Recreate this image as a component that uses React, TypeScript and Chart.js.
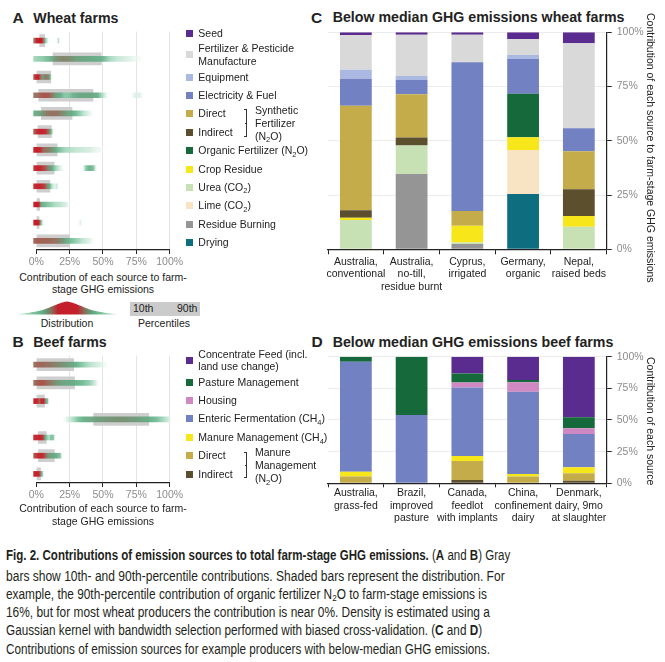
import React, { useEffect, useLayoutEffect, useRef } from "react";
import { Chart, registerables } from "chart.js";

Chart.register(...registerables);

const SANS = "'Liberation Sans', Arial, Helvetica, sans-serif";
const NARROW = "'Liberation Sans Narrow', 'Arial Narrow', 'Liberation Sans', Arial, sans-serif";
Chart.defaults.font.family = SANS;

// ---------------- Panel A : wheat farms ----------------
const wheatSources = [
  "Seed",
  "Fertilizer & Pesticide Manufacture",
  "Equipment",
  "Electricity & Fuel",
  "Direct",
  "Indirect",
  "Organic Fertilizer (N2O)",
  "Crop Residue",
  "Urea (CO2)",
  "Lime (CO2)",
  "Residue Burning",
  "Drying",
];
const wheatColors = [
  "#5b2c8f", "#d9d9d9", "#aab8e2", "#7281c1", "#c4ac4b", "#5b4f2e",
  "#15693a", "#f6e61a", "#c7e1b5", "#f8e4c2", "#959595", "#0e6e80",
];
const wheatP10 = [2.5, 12.5, 0, 1.8, 3.8, 1.3, 0, 0, 0, 0, 0, 0];
const wheatP90 = [6.3, 48.7, 10.8, 42.5, 26.8, 11.3, 15.7, 13.4, 10.2, 2.5, 2, 25];
// [percent, relative density]
const wheatDensity = [
  [[-2, 0.45], [0, 0.85], [2, 1], [4, 0.9], [5.5, 0.5], [7, 0.2], [9, 0.03], [10, 0], [15, 0], [16.5, 0.15], [18, 0]],
  [[-2, 0.15], [5, 0.2], [10, 0.28], [15, 0.4], [20, 0.45], [25, 0.42], [30, 0.35], [35, 0.33], [40, 0.32], [45, 0.3], [50, 0.28], [55, 0.15], [60, 0.1], [70, 0.05], [80, 0.02], [82, 0]],
  [[-2, 0.6], [0, 0.9], [2, 0.85], [3.5, 0.45], [5, 0.38], [7, 0.5], [9, 0.45], [10.5, 0.25], [12, 0]],
  [[-2, 0.5], [2, 0.55], [6, 0.62], [9, 0.6], [12, 0.48], [15, 0.35], [18, 0.3], [21, 0.2], [24, 0.2], [28, 0.28], [33, 0.32], [38, 0.33], [43, 0.32], [46, 0.3], [49, 0.15], [52, 0.05], [55, 0], [70, 0], [74, 0.06], [78, 0.05], [81, 0]],
  [[-2, 0.3], [0, 0.32], [4, 0.38], [8, 0.48], [12, 0.52], [16, 0.5], [20, 0.42], [24, 0.33], [28, 0.3], [32, 0.2], [36, 0.1], [40, 0.04], [44, 0]],
  [[-2, 0.55], [0, 0.75], [2, 0.85], [5, 0.85], [7, 0.75], [9, 0.55], [10.5, 0.35], [12, 0.15], [13, 0]],
  [[-2, 0.85], [0, 0.95], [3, 0.8], [5, 0.55], [8, 0.5], [11, 0.42], [14, 0.33], [17, 0.25], [22, 0.15], [30, 0.1], [40, 0.07], [48, 0.03], [52, 0]],
  [[-2, 0.7], [0, 0.85], [3, 0.85], [6, 0.65], [9, 0.45], [12, 0.3], [15, 0.15], [18, 0.06], [22, 0], [34, 0], [37, 0.2], [40, 0.3], [43, 0.22], [46, 0]],
  [[-2, 0.75], [0, 0.85], [3, 0.85], [6, 0.7], [8, 0.45], [10, 0.3], [12, 0.1], [14, 0.04], [15.5, 0.1], [17, 0]],
  [[-2, 0.85], [0, 1], [2, 0.8], [3.5, 0.35], [6, 0.28], [9, 0.22], [14, 0.14], [19, 0.1], [23, 0.05], [26, 0]],
  [[-2, 0.85], [0, 1], [2, 0.8], [3, 0.4], [4.5, 0.1], [6, 0], [31, 0], [33, 0.06], [35, 0]],
  [[-2, 0.55], [0, 0.58], [5, 0.56], [10, 0.55], [15, 0.5], [19, 0.42], [22, 0.32], [26, 0.25], [30, 0.18], [35, 0.1], [40, 0.05], [45, 0]],
];

// ---------------- Panel B : beef farms ----------------
const beefSources = [
  "Concentrate Feed (incl. land use change)",
  "Pasture Management",
  "Housing",
  "Enteric Fermentation (CH4)",
  "Manure Management (CH4)",
  "Direct",
  "Indirect",
];
const beefColors = ["#5b2c8f", "#15693a", "#d088c2", "#7281c1", "#f6e61a", "#c4ac4b", "#5b4f2e"];
const beefP10 = [0, 0, 0, 43, 1.5, 1.5, 0];
const beefP90 = [28, 28.7, 6.2, 84.3, 7.5, 13.5, 3.2];
const beefDensity = [
  [[-2, 0.52], [0, 0.55], [5, 0.55], [10, 0.5], [15, 0.45], [20, 0.4], [25, 0.34], [30, 0.3], [35, 0.2], [40, 0.12], [45, 0.08], [50, 0.04], [55, 0]],
  [[-2, 0.5], [0, 0.58], [4, 0.62], [8, 0.55], [12, 0.45], [16, 0.38], [20, 0.33], [25, 0.32], [30, 0.3], [35, 0.26], [40, 0.18], [44, 0.08], [48, 0]],
  [[-2, 0.85], [0, 0.9], [1.5, 0.7], [2.5, 0.55], [3.5, 0.8], [5.5, 0.85], [7, 0.4], [8.5, 0.25], [10, 0]],
  [[19, 0], [23, 0.05], [27, 0.12], [31, 0.22], [35, 0.3], [40, 0.33], [45, 0.35], [50, 0.37], [55, 0.38], [60, 0.4], [65, 0.4], [70, 0.38], [75, 0.36], [80, 0.33], [85, 0.3], [90, 0.25], [95, 0.15], [99, 0.08], [102, 0]],
  [[-2, 0.8], [0, 0.85], [3, 0.85], [5, 0.7], [6.5, 0.33], [8, 0.2], [9.5, 0.12], [11, 0.25], [13, 0.2], [14.5, 0]],
  [[-2, 0.55], [0, 0.75], [3, 0.85], [5, 0.78], [7, 0.55], [9, 0.38], [12, 0.33], [15, 0.32], [18, 0.22], [20, 0]],
  [[-2, 0.85], [0, 0.9], [2, 0.85], [3, 0.5], [4.5, 0.25], [6, 0]],
];

const pctTicks = [0, 25, 50, 75, 100];

// ---------------- Panel C : example wheat farms ----------------
const wheatFarms = [
  ["Australia,", "conventional"],
  ["Australia,", "no-till,", "residue burnt"],
  ["Cyprus,", "irrigated"],
  ["Germany,", "organic"],
  ["Nepal,", "raised beds"],
];
const cDrying = [0, 0, 0, 25.5, 0];
const cResidueBurning = [0, 34.7, 2.5, 0, 0];
const cUrea = [13.5, 13.1, 0.6, 0, 10.4];
const cLime = [0, 0, 0, 20.3, 0];
const cCropResidue = [1.0, 0, 7.7, 5.8, 4.9];
const cOrganic = [0, 0, 0, 20.1, 0];
const cIndirect = [3.5, 3.7, 0, 0, 12.4];
const cDirect = [48.2, 20.0, 6.9, 0, 17.5];
const cElectricity = [12.4, 6.6, 68.5, 16.0, 10.6];
const cEquipment = [4.1, 1.8, 0, 1.8, 0];
const cFertilizer = [16.1, 19.0, 12.7, 7.4, 39.1];
const cSeed = [1.2, 1.1, 1.1, 3.1, 5.1];

// ---------------- Panel D : example beef farms ----------------
const beefFarms = [
  ["Australia,", "grass-fed"],
  ["Brazil,", "improved", "pasture"],
  ["Canada,", "feedlot", "with implants"],
  ["China,", "confinement", "dairy"],
  ["Denmark,", "dairy, 9mo", "at slaughter"],
];
const dIndirect = [0, 0, 2.6, 0, 2.1];
const dDirect = [5.3, 0, 15.0, 5.3, 5.8];
const dManureCH4 = [3.9, 0, 3.9, 2.1, 4.7];
const dEnteric = [86.8, 53.9, 54.2, 65.0, 26.3];
const dHousing = [0, 0, 3.9, 7.4, 4.5];
const dPasture = [4.0, 46.1, 7.1, 1.8, 8.7];
const dConcentrate = [0, 0, 13.3, 18.4, 47.9];

const wc = (name: string) => wheatColors[wheatSources.indexOf(name)];
const bc = (name: string) => beefColors[beefSources.indexOf(name)];

const wheatStack = [
  { label: "Drying", data: cDrying, color: wc("Drying") },
  { label: "Residue Burning", data: cResidueBurning, color: wc("Residue Burning") },
  { label: "Urea (CO2)", data: cUrea, color: wc("Urea (CO2)") },
  { label: "Lime (CO2)", data: cLime, color: wc("Lime (CO2)") },
  { label: "Crop Residue", data: cCropResidue, color: wc("Crop Residue") },
  { label: "Organic Fertilizer (N2O)", data: cOrganic, color: wc("Organic Fertilizer (N2O)") },
  { label: "Indirect", data: cIndirect, color: wc("Indirect") },
  { label: "Direct", data: cDirect, color: wc("Direct") },
  { label: "Electricity & Fuel", data: cElectricity, color: wc("Electricity & Fuel") },
  { label: "Equipment", data: cEquipment, color: wc("Equipment") },
  { label: "Fertilizer & Pesticide Manufacture", data: cFertilizer, color: wc("Fertilizer & Pesticide Manufacture") },
  { label: "Seed", data: cSeed, color: wc("Seed") },
];
const beefStack = [
  { label: "Indirect", data: dIndirect, color: bc("Indirect") },
  { label: "Direct", data: dDirect, color: bc("Direct") },
  { label: "Manure Management (CH4)", data: dManureCH4, color: bc("Manure Management (CH4)") },
  { label: "Enteric Fermentation (CH4)", data: dEnteric, color: bc("Enteric Fermentation (CH4)") },
  { label: "Housing", data: dHousing, color: bc("Housing") },
  { label: "Pasture Management", data: dPasture, color: bc("Pasture Management") },
  { label: "Concentrate Feed (incl. land use change)", data: dConcentrate, color: bc("Concentrate Feed (incl. land use change)") },
];

// ---------------- density colour ramp ----------------
const ramp: [number, number[]][] = [
  [0, [255, 255, 255, 0]],
  [0.04, [230, 244, 237, 0.9]],
  [0.1, [190, 228, 209, 0.9]],
  [0.2, [130, 198, 163, 0.9]],
  [0.3, [92, 171, 130, 0.9]],
  [0.4, [112, 140, 108, 0.9]],
  [0.5, [140, 108, 88, 0.9]],
  [0.62, [168, 72, 62, 0.92]],
  [0.78, [196, 32, 42, 0.95]],
  [1, [200, 25, 35, 1]],
];
function densityColor(d: number) {
  for (let i = 1; i < ramp.length; i++) {
    if (d <= ramp[i][0]) {
      const [a, ca] = ramp[i - 1];
      const [b, cb] = ramp[i];
      const t = (d - a) / (b - a);
      const c = ca.map((v, k) => v + (cb[k] - v) * t);
      return `rgba(${Math.round(c[0])},${Math.round(c[1])},${Math.round(c[2])},${c[3].toFixed(3)})`;
    }
  }
  return "rgba(200,25,35,1)";
}

function stripGradient(c: any, density: number[][][]) {
  const chart = c.chart;
  if (c.dataIndex === undefined || !chart.chartArea) return "rgba(0,0,0,0)";
  const prof = density[c.dataIndex];
  const xs = chart.scales.x;
  const x0 = xs.getPixelForValue(prof[0][0]);
  const x1 = xs.getPixelForValue(prof[prof.length - 1][0]);
  const g = chart.ctx.createLinearGradient(x0, 0, x1, 0);
  for (const [p, d] of prof) {
    const t = Math.min(1, Math.max(0, (xs.getPixelForValue(p) - x0) / (x1 - x0)));
    g.addColorStop(t, densityColor(d));
  }
  return g;
}

function StripChart(props: any) {
  const { left, top, width, height, padTop, padLeft, padRight, labels, p10, p90, density } = props;
  const ref = useRef<HTMLCanvasElement>(null);
  useEffect(() => {
    const chart = new Chart(ref.current as HTMLCanvasElement, {
      type: "bar",
      data: {
        labels,
        datasets: [
          {
            data: labels.map((_: any, i: number) => [p10[i], p90[i]]),
            backgroundColor: "#cecece",
            borderWidth: 0,
            barThickness: 12,
            grouped: false,
            order: 2,
          },
          {
            data: density.map((d: number[][]) => [d[0][0], d[d.length - 1][0]]),
            backgroundColor: (c: any) => stripGradient(c, density),
            borderWidth: 0,
            barThickness: 5,
            grouped: false,
            order: 1,
            clip: false,
          },
        ],
      } as any,
      options: {
        indexAxis: "y",
        responsive: false,
        animation: false,
        events: [],
        layout: { padding: { top: padTop, left: padLeft, right: padRight, bottom: 0 } },
        plugins: { legend: { display: false }, tooltip: { enabled: false } },
        scales: {
          y: { display: false },
          x: {
            min: 0,
            max: 100,
            afterBuildTicks: (s: any) => {
              s.ticks = pctTicks.map((v) => ({ value: v }));
            },
            afterFit: (s: any) => {
              s.height = 20;
            },
            ticks: {
              callback: (v: any) => v + "%",
              color: "#8c8c8c",
              font: { size: 10.5 },
              padding: 2,
              maxRotation: 0,
              autoSkip: false,
            },
            grid: {
              color: (c: any) => (c.tick && c.tick.value === 0 ? "rgba(0,0,0,0)" : "#e4e4e4"),
              tickColor: "#222",
              tickLength: 4,
            },
            border: { color: "#222", width: 1.2 },
          },
        },
      } as any,
    });
    return () => chart.destroy();
  }, []);
  return (
    <canvas
      ref={ref}
      width={width}
      height={height}
      style={{ position: "absolute", left, top, width, height }}
    />
  );
}

function StackChart(props: any) {
  const { left, top, width, height, padTop, padLeft, axisH, axisW, labels, series, tickLen, tickPad } = props;
  const ref = useRef<HTMLCanvasElement>(null);
  useEffect(() => {
    const chart = new Chart(ref.current as HTMLCanvasElement, {
      type: "bar",
      data: {
        labels,
        datasets: series.map((s: any) => ({
          label: s.label,
          data: s.data,
          backgroundColor: s.color,
          borderWidth: 0,
          barPercentage: 0.57,
          categoryPercentage: 1,
        })),
      },
      options: {
        responsive: false,
        animation: false,
        events: [],
        layout: { padding: { top: padTop, left: padLeft, right: 0, bottom: 0 } },
        plugins: { legend: { display: false }, tooltip: { enabled: false } },
        scales: {
          x: {
            stacked: true,
            afterFit: (s: any) => {
              s.height = axisH;
            },
            ticks: {
              color: "#222",
              font: { size: 10.5, lineHeight: 1.18 },
              padding: tickPad,
              maxRotation: 0,
              minRotation: 0,
              autoSkip: false,
            },
            grid: { drawOnChartArea: false, tickColor: "#222", tickLength: tickLen, offset: true },
            border: { color: "#222", width: 1.2 },
          },
          y: {
            stacked: true,
            position: "right",
            min: 0,
            max: 100,
            afterBuildTicks: (s: any) => {
              s.ticks = pctTicks.map((v) => ({ value: v }));
            },
            afterFit: (s: any) => {
              s.width = axisW;
            },
            ticks: { callback: (v: any) => v + "%", color: "#8c8c8c", font: { size: 10.5 }, padding: 5 },
            grid: { color: "#ececec", tickColor: "#222", tickLength: 5 },
            border: { color: "#222", width: 1.2 },
          },
        },
      } as any,
    });
    return () => chart.destroy();
  }, []);
  return (
    <canvas
      ref={ref}
      width={width}
      height={height}
      style={{ position: "absolute", left, top, width, height }}
    />
  );
}

// ---------------- HTML text helpers ----------------
function Txt(props: any) {
  const { x, y, size = 10.5, bold = false, color = "#222", center = false, family = SANS, lh = 13, children } = props;
  return (
    <div
      style={{
        position: "absolute",
        left: x,
        top: y - lh / 2,
        lineHeight: lh + "px",
        fontSize: size,
        fontWeight: bold ? 700 : 400,
        color,
        fontFamily: family,
        whiteSpace: "nowrap",
        transform: center ? "translateX(-50%)" : undefined,
      }}
    >
      {children}
    </div>
  );
}

const Sub = ({ children }: any) => (
  <span style={{ fontSize: 7.5, position: "relative", top: 2.5 }}>{children}</span>
);

function Sq({ y, color }: any) {
  return <div style={{ position: "absolute", left: 185.5, top: y - 3.5, width: 7, height: 7, background: color }} />;
}

function Bracket({ y0, y1 }: any) {
  const mid = (y0 + y1) / 2;
  return (
    <>
      <div style={{ position: "absolute", left: 246, top: y0, width: 1, height: y1 - y0, background: "#333" }} />
      <div style={{ position: "absolute", left: 244, top: y0, width: 2, height: 1, background: "#333" }} />
      <div style={{ position: "absolute", left: 244, top: y1 - 1, width: 2, height: 1, background: "#333" }} />
      <div style={{ position: "absolute", left: 244.5, top: mid, width: 1.5, height: 1, background: "#333" }} />
    </>
  );
}

function DistributionGlyph() {
  const pts: string[] = [];
  const x0 = 16, x1 = 118, cx = 67, base = 19.5, h = 13;
  for (let i = 0; i <= 60; i++) {
    const x = x0 + ((x1 - x0) * i) / 60;
    const u = (x - cx) / 30;
    const y = base - h * (0.5 * Math.exp(-u * u * 2.5) + 0.5 * Math.max(0, 1 - Math.abs(u) / 1.7));
    pts.push(`${x.toFixed(1)},${y.toFixed(2)}`);
  }
  return (
    <svg style={{ position: "absolute", left: 0, top: 295 }} width={130} height={22}>
      <defs>
        <linearGradient id="distg" x1="16" x2="118" y1="0" y2="0" gradientUnits="userSpaceOnUse">
          <stop offset="0" stopColor="#dff2e8" />
          <stop offset="0.14" stopColor="#8ccaa9" />
          <stop offset="0.27" stopColor="#5aa981" />
          <stop offset="0.35" stopColor="#8a6c58" />
          <stop offset="0.41" stopColor="#c3202b" />
          <stop offset="0.6" stopColor="#c3202b" />
          <stop offset="0.67" stopColor="#8a6c58" />
          <stop offset="0.75" stopColor="#5aa981" />
          <stop offset="0.87" stopColor="#8ccaa9" />
          <stop offset="1" stopColor="#dff2e8" />
        </linearGradient>
      </defs>
      <polygon points={`${x0},${base} ${pts.join(" ")} ${x1},${base}`} fill="url(#distg)" />
    </svg>
  );
}

const captionWidths = [504, 499, 481, 484, 476, 484];
const captionY = [555, 575.7, 594.3, 612.3, 630.3, 648.7];

function Caption() {
  const ref = useRef<HTMLDivElement>(null);
  useLayoutEffect(() => {
    const fit = () => {
      const spans = (ref.current as HTMLDivElement).querySelectorAll<HTMLSpanElement>("span[data-w]");
      spans.forEach((s) => {
        s.style.transform = "none";
        const w = s.offsetWidth;
        const t = Number(s.dataset.w);
        if (w > 0) s.style.transform = `scaleX(${(t / w).toFixed(4)})`;
      });
    };
    fit();
    if ((document as any).fonts && (document as any).fonts.ready) (document as any).fonts.ready.then(fit);
  }, []);
  const lines = [
    <>
      <b>Fig. 2. Contributions of emission sources to total farm-stage GHG emissions.</b> (<b>A</b> and <b>B</b>) Gray
    </>,
    <>bars show 10th- and 90th-percentile contributions. Shaded bars represent the distribution. For</>,
    <>
      example, the 90th-percentile contribution of organic fertilizer N<span style={{ fontSize: 9.5, position: "relative", top: 2 }}>2</span>O to farm-stage emissions is
    </>,
    <>16%, but for most wheat producers the contribution is near 0%. Density is estimated using a</>,
    <>
      Gaussian kernel with bandwidth selection performed with biased cross-validation. (<b>C</b> and <b>D</b>)
    </>,
    <>Contributions of emission sources for example producers with below-median GHG emissions.</>,
  ];
  return (
    <div ref={ref}>
      {lines.map((l, i) => (
        <div
          key={i}
          style={{
            position: "absolute",
            left: 6,
            top: captionY[i] - 9,
            lineHeight: "18px",
            fontSize: 14,
            fontFamily: NARROW,
            color: "#231f20",
            whiteSpace: "nowrap",
          }}
        >
          <span data-w={captionWidths[i]} style={{ display: "inline-block", transformOrigin: "0 50%" }}>
            {l}
          </span>
        </div>
      ))}
    </div>
  );
}

export default function App() {
  return (
    <div
      style={{
        position: "absolute",
        left: 0,
        top: 0,
        width: 665,
        height: 662,
        background: "#fff",
        overflow: "hidden",
        fontFamily: SANS,
        color: "#222",
      }}
    >
      {/* Titles */}
      <Txt x={12.5} y={18} size={15.5} bold lh={18}>A</Txt>
      <Txt x={33.3} y={17.5} size={14.2} bold lh={18}>Wheat farms</Txt>
      <Txt x={12.5} y={342} size={15.5} bold lh={18}>B</Txt>
      <Txt x={33.3} y={341.7} size={14.2} bold lh={18}>Beef farms</Txt>
      <Txt x={311} y={17.5} size={15.5} bold lh={18}>C</Txt>
      <Txt x={332.7} y={17.3} size={14.2} bold lh={18}>Below median GHG emissions wheat farms</Txt>
      <Txt x={311.5} y={342} size={15.5} bold lh={18}>D</Txt>
      <Txt x={332.7} y={342.3} size={14.2} bold lh={18}>Below median GHG emissions beef farms</Txt>

      {/* Panel A */}
      <StripChart
        left={0}
        top={20}
        width={200}
        height={250}
        padTop={11.5}
        padLeft={36.3}
        padRight={30.3}
        labels={wheatSources}
        p10={wheatP10}
        p90={wheatP90}
        density={wheatDensity}
      />
      <Txt x={103} y={277.7} center>Contribution of each source to farm-</Txt>
      <Txt x={103} y={289.5} center>stage GHG emissions</Txt>
      <DistributionGlyph />
      <Txt x={67} y={323} center>Distribution</Txt>
      <div style={{ position: "absolute", left: 130, top: 302, width: 70, height: 13.5, background: "#cbcbcb" }} />
      <Txt x={133} y={308.7}>10th</Txt>
      <Txt x={177} y={308.7}>90th</Txt>
      <Txt x={164} y={323} center>Percentiles</Txt>

      {/* Legend A */}
      <Sq y={33.3} color={wheatColors[0]} />
      <Txt x={198.3} y={33.3}>Seed</Txt>
      <Sq y={54} color={wheatColors[1]} />
      <Txt x={198.3} y={48.7}>Fertilizer &amp; Pesticide</Txt>
      <Txt x={198.3} y={61.3}>Manufacture</Txt>
      <Sq y={77.7} color={wheatColors[2]} />
      <Txt x={198.3} y={77.7}>Equipment</Txt>
      <Sq y={95.7} color={wheatColors[3]} />
      <Txt x={198.3} y={95.7}>Electricity &amp; Fuel</Txt>
      <Sq y={113.3} color={wheatColors[4]} />
      <Txt x={198.3} y={113.3}>Direct</Txt>
      <Sq y={132.3} color={wheatColors[5]} />
      <Txt x={198.3} y={132.3}>Indirect</Txt>
      <Bracket y0={108.5} y1={137} />
      <Txt x={255} y={110}>Synthetic</Txt>
      <Txt x={255} y={123.3}>Fertilizer</Txt>
      <Txt x={255} y={136.3}>(N<Sub>2</Sub>O)</Txt>
      <Sq y={150.7} color={wheatColors[6]} />
      <Txt x={198.3} y={150.7}>Organic Fertilizer (N<Sub>2</Sub>O)</Txt>
      <Sq y={169.3} color={wheatColors[7]} />
      <Txt x={198.3} y={169.3}>Crop Residue</Txt>
      <Sq y={187.3} color={wheatColors[8]} />
      <Txt x={198.3} y={187.3}>Urea (CO<Sub>2</Sub>)</Txt>
      <Sq y={205.7} color={wheatColors[9]} />
      <Txt x={198.3} y={205.7}>Lime (CO<Sub>2</Sub>)</Txt>
      <Sq y={224} color={wheatColors[10]} />
      <Txt x={198.3} y={224}>Residue Burning</Txt>
      <Sq y={242.3} color={wheatColors[11]} />
      <Txt x={198.3} y={242.3}>Drying</Txt>

      {/* Panel B */}
      <StripChart
        left={0}
        top={345}
        width={200}
        height={158}
        padTop={10.6}
        padLeft={36.3}
        padRight={30.3}
        labels={beefSources}
        p10={beefP10}
        p90={beefP90}
        density={beefDensity}
      />
      <Txt x={103} y={508} center>Contribution of each source to farm-</Txt>
      <Txt x={103} y={521.3} center>stage GHG emissions</Txt>

      {/* Legend B */}
      <Sq y={360} color={beefColors[0]} />
      <Txt x={198.3} y={354}>Concentrate Feed (incl.</Txt>
      <Txt x={198.3} y={366.3}>land use change)</Txt>
      <Sq y={382.3} color={beefColors[1]} />
      <Txt x={198.3} y={382.3}>Pasture Management</Txt>
      <Sq y={400.3} color={beefColors[2]} />
      <Txt x={198.3} y={400.3}>Housing</Txt>
      <Sq y={418.7} color={beefColors[3]} />
      <Txt x={198.3} y={418.7}>Enteric Fermentation (CH<Sub>4</Sub>)</Txt>
      <Sq y={437.7} color={beefColors[4]} />
      <Txt x={198.3} y={437.7}>Manure Management (CH<Sub>4</Sub>)</Txt>
      <Sq y={455.7} color={beefColors[5]} />
      <Txt x={198.3} y={455.7}>Direct</Txt>
      <Sq y={474} color={beefColors[6]} />
      <Txt x={198.3} y={474}>Indirect</Txt>
      <Bracket y0={451.7} y1={478} />
      <Txt x={255} y={452.3}>Manure</Txt>
      <Txt x={255} y={465.7}>Management</Txt>
      <Txt x={255} y={478.7}>(N<Sub>2</Sub>O)</Txt>

      {/* Panel C */}
      <StackChart
        left={300}
        top={20}
        width={350}
        height={300}
        padTop={12.3}
        padLeft={28}
        axisH={70.7}
        axisW={43.3}
        labels={wheatFarms}
        series={wheatStack}
        tickLen={5}
        tickPad={1.5}
      />
      <div
        style={{
          position: "absolute",
          left: 644,
          top: 12.5,
          writingMode: "vertical-rl",
          fontSize: 10.5,
          lineHeight: "14px",
          whiteSpace: "nowrap",
          color: "#222",
        }}
      >
        Contribution of each source to farm-stage GHG emissions
      </div>

      {/* Panel D */}
      <StackChart
        left={300}
        top={340}
        width={350}
        height={190}
        padTop={16.7}
        padLeft={28}
        axisH={46.7}
        axisW={43.3}
        labels={beefFarms}
        series={beefStack}
        tickLen={4}
        tickPad={0}
      />
      <div
        style={{
          position: "absolute",
          left: 644,
          top: 357,
          writingMode: "vertical-rl",
          fontSize: 10.5,
          lineHeight: "14px",
          whiteSpace: "nowrap",
          color: "#222",
        }}
      >
        Contribution of each source
      </div>

      <Caption />
    </div>
  );
}
